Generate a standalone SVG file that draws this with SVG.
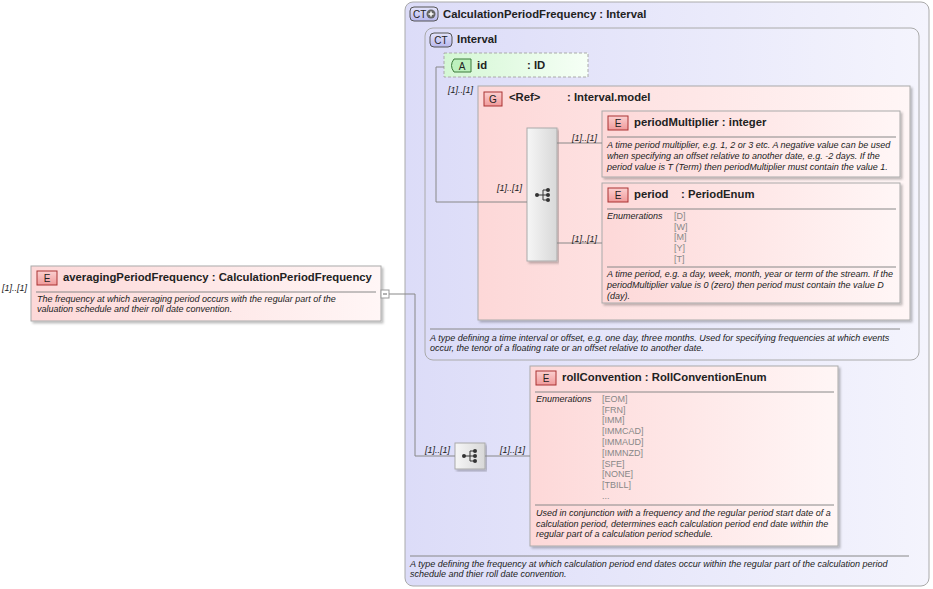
<svg xmlns="http://www.w3.org/2000/svg" width="933" height="589" viewBox="0 0 933 589">
<defs>
<linearGradient id="ct" x1="0" y1="0" x2="1" y2="0"><stop offset="0" stop-color="#dcdcf8"/><stop offset="1" stop-color="#f4f4fd"/></linearGradient>
<linearGradient id="el" x1="0" y1="0" x2="1" y2="0"><stop offset="0" stop-color="#fdd8d8"/><stop offset="1" stop-color="#fff6f6"/></linearGradient>
<linearGradient id="at" x1="0" y1="0" x2="1" y2="0"><stop offset="0" stop-color="#d4f7d4"/><stop offset="1" stop-color="#f6fff6"/></linearGradient>
<linearGradient id="sq" x1="0" y1="0" x2="1" y2="0"><stop offset="0" stop-color="#f6f6f6"/><stop offset="1" stop-color="#d8d8d8"/></linearGradient>
<linearGradient id="be" x1="0" y1="0" x2="0" y2="1"><stop offset="0" stop-color="#fbd0d0"/><stop offset="1" stop-color="#f09a9a"/></linearGradient>
<linearGradient id="bc" x1="0" y1="0" x2="0" y2="1"><stop offset="0" stop-color="#e4e4fb"/><stop offset="1" stop-color="#b8b8ee"/></linearGradient>
<filter id="sh" x="-5%" y="-5%" width="110%" height="115%"><feDropShadow dx="2" dy="2" stdDeviation="1" flood-color="#000" flood-opacity="0.25"/></filter>
<g id="seqicon"><line x1="-6" y1="0" x2="0" y2="0" stroke="#333"/><line x1="0" y1="-5" x2="0" y2="5" stroke="#333"/><line x1="0" y1="-5" x2="5" y2="-5" stroke="#333"/><line x1="0" y1="0" x2="5" y2="0" stroke="#333"/><line x1="0" y1="5" x2="5" y2="5" stroke="#333"/><circle cx="-6" cy="0" r="2" fill="#333"/><circle cx="5" cy="-5" r="2" fill="#333"/><circle cx="5" cy="0" r="2" fill="#333"/><circle cx="5" cy="5" r="2" fill="#333"/></g>
</defs>
<style>
text{font-family:"Liberation Sans",Arial,sans-serif;fill:#222}
.t{font-size:11.3px;font-weight:bold}
.d{font-size:9px;font-style:italic}
.m{font-size:9px;font-style:italic}
.en{font-size:9px;fill:#888}
.b{font-size:10px;text-anchor:middle}
.box{stroke:#aaa;stroke-width:1}
.sep{stroke:#888;stroke-width:1}
.c{stroke:#888;fill:none;stroke-width:1}
</style>

<g id="outer">
<rect x="405" y="2" width="524" height="584" rx="8" fill="url(#ct)" class="box"/>
<rect x="410" y="7" width="28" height="14" rx="4" fill="url(#bc)" stroke="#555"/>
<text x="413" y="18" class="b" style="text-anchor:start">CT</text>
<circle cx="431" cy="14" r="4.5" fill="#666"/><path d="M428.5 14h5M431 11.5v5" stroke="#fff" stroke-width="1.5"/>
<text x="443" y="18" class="t">CalculationPeriodFrequency  : Interval</text>
<line x1="410" y1="556" x2="909" y2="556" class="sep"/>
<text x="410" y="567" class="d">A type defining the frequency at which calculation period end dates occur within the regular part of the calculation period</text>
<text x="410" y="577" class="d">schedule and thier roll date convention.</text>
</g>

<g id="interval">
<rect x="425" y="28" width="494" height="332" rx="8" fill="url(#ct)" class="box"/>
<rect x="430" y="33" width="22" height="14" rx="4" fill="url(#bc)" stroke="#555"/>
<text x="441" y="44" class="b">CT</text>
<text x="457" y="43" class="t">Interval</text>
<line x1="430" y1="329" x2="900" y2="329" class="sep"/>
<text x="430" y="341" class="d">A type defining a time interval or offset, e.g. one day, three months. Used for specifying frequencies at which events</text>
<text x="430" y="351" class="d">occur, the tenor of a floating rate or an offset relative to another date.</text>
</g>

<g id="id">
<rect x="444" y="53" width="144" height="24" fill="url(#at)" stroke="#aaa" stroke-dasharray="3,2"/>
<path d="M454 59h17v13h-17q-5 -6.5 0 -13z" fill="#bdf0bd" stroke="#3a7a3a"/>
<text x="462" y="70" class="b">A</text>
<text x="477" y="69" class="t">id</text>
<text x="527" y="69" class="t">: ID</text>
</g>

<g id="group">
<rect x="478" y="86" width="432" height="234" fill="url(#el)" class="box" filter="url(#sh)"/>
<rect x="484" y="92" width="18" height="14" fill="url(#be)" stroke="#a33"/>
<text x="493" y="103" class="b">G</text>
<text x="509" y="101" class="t">&lt;Ref&gt;</text>
<text x="567" y="101" class="t">: Interval.model</text>
</g>

<g id="seq1">
<rect x="527" y="128" width="30" height="133" fill="url(#sq)" class="box" filter="url(#sh)"/>
<use href="#seqicon" x="543" y="195"/>
</g>

<g id="periodMultiplier">
<rect x="602" y="111" width="298" height="66" fill="url(#el)" class="box" filter="url(#sh)"/>
<rect x="608" y="116" width="20" height="14" fill="url(#be)" stroke="#a33"/>
<text x="618" y="127" class="b">E</text>
<text x="634" y="126" class="t">periodMultiplier  : integer</text>
<line x1="607" y1="137" x2="896" y2="137" class="sep"/>
<text x="607" y="148" class="d">A time period multiplier, e.g. 1, 2 or 3 etc. A negative value can be used</text>
<text x="607" y="159" class="d">when specifying an offset relative to another date, e.g. -2 days. If the</text>
<text x="607" y="170" class="d">period value is T (Term) then periodMultiplier must contain the value 1.</text>
</g>

<g id="period">
<rect x="602" y="183" width="298" height="120" fill="url(#el)" class="box" filter="url(#sh)"/>
<rect x="608" y="188" width="20" height="14" fill="url(#be)" stroke="#a33"/>
<text x="618" y="199" class="b">E</text>
<text x="634" y="198" class="t">period</text>
<text x="681" y="198" class="t">: PeriodEnum</text>
<line x1="607" y1="209" x2="896" y2="209" class="sep"/>
<text x="607" y="219" class="m">Enumerations</text>
<text x="674" y="219" class="en">[D]</text>
<text x="674" y="230" class="en">[W]</text>
<text x="674" y="240" class="en">[M]</text>
<text x="674" y="251" class="en">[Y]</text>
<text x="674" y="262" class="en">[T]</text>
<line x1="607" y1="267" x2="896" y2="267" class="sep"/>
<text x="607" y="277" class="d">A time period, e.g. a day, week, month, year or term of the stream. If the</text>
<text x="607" y="288" class="d">periodMultiplier value is 0 (zero) then period must contain the value D</text>
<text x="607" y="299" class="d">(day).</text>
</g>

<g id="seq2">
<rect x="455" y="443" width="30" height="26" fill="url(#sq)" class="box" filter="url(#sh)"/>
<use href="#seqicon" x="470" y="456"/>
</g>

<g id="rollConvention">
<rect x="530" y="366" width="308" height="180" fill="url(#el)" class="box" filter="url(#sh)"/>
<rect x="536" y="371" width="20" height="14" fill="url(#be)" stroke="#a33"/>
<text x="546" y="382" class="b">E</text>
<text x="562" y="381" class="t">rollConvention  : RollConventionEnum</text>
<line x1="535" y1="392" x2="834" y2="392" class="sep"/>
<text x="536" y="402" class="m">Enumerations</text>
<text x="602" y="402" class="en">[EOM]</text>
<text x="602" y="413" class="en">[FRN]</text>
<text x="602" y="423" class="en">[IMM]</text>
<text x="602" y="434" class="en">[IMMCAD]</text>
<text x="602" y="445" class="en">[IMMAUD]</text>
<text x="602" y="456" class="en">[IMMNZD]</text>
<text x="602" y="467" class="en">[SFE]</text>
<text x="602" y="477" class="en">[NONE]</text>
<text x="602" y="488" class="en">[TBILL]</text>
<text x="602" y="499" class="en">...</text>
<line x1="535" y1="505" x2="834" y2="505" class="sep"/>
<text x="536" y="516" class="d">Used in conjunction with a frequency and the regular period start date of a</text>
<text x="536" y="527" class="d">calculation period, determines each calculation period end date within the</text>
<text x="536" y="537" class="d">regular part of a calculation period schedule.</text>
</g>

<g id="averagingPeriodFrequency">
<rect x="31" y="266" width="350" height="55" fill="url(#el)" class="box" filter="url(#sh)"/>
<rect x="37" y="271" width="20" height="14" fill="url(#be)" stroke="#a33"/>
<text x="47" y="282" class="b">E</text>
<text x="63" y="281" class="t">averagingPeriodFrequency  : CalculationPeriodFrequency</text>
<line x1="36" y1="292" x2="376" y2="292" class="sep"/>
<text x="37" y="302" class="d">The frequency at which averaging period occurs with the regular part of the</text>
<text x="37" y="312" class="d">valuation schedule and their roll date convention.</text>
<rect x="381" y="290" width="8" height="8" fill="#fff" stroke="#999"/>
<line x1="383" y1="294" x2="387" y2="294" stroke="#666"/>
</g>

<g id="connectors">
<path class="c" d="M389 294H415M415 294V456H455"/>
<path class="c" d="M444 67H436V202H527"/>
<path class="c" d="M557 143H602M557 243H602"/>
<path class="c" d="M485 456H530"/>
<text x="2" y="291" class="m">[1]..[1]</text>
<text x="448" y="93" class="m">[1]..[1]</text>
<text x="497" y="191" class="m">[1]..[1]</text>
<text x="572" y="141" class="m">[1]..[1]</text>
<text x="572" y="242" class="m">[1]..[1]</text>
<text x="425" y="453" class="m">[1]..[1]</text>
<text x="500" y="453" class="m">[1]..[1]</text>
</g>
</svg>
